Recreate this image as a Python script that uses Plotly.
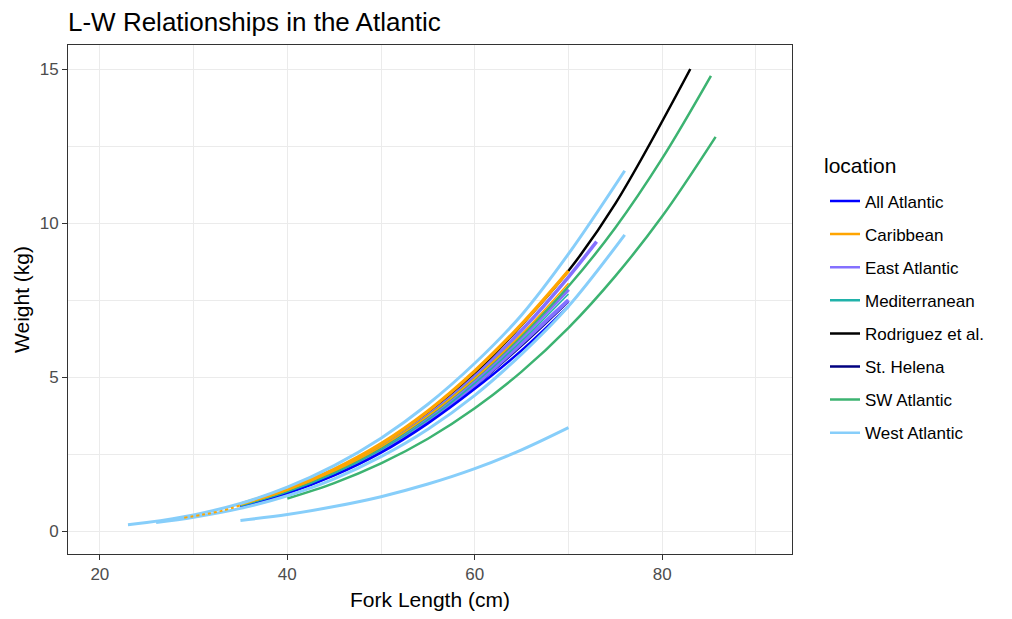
import plotly.graph_objects as go

# ---------------- data ----------------
locations = ["All Atlantic", "Caribbean", "East Atlantic", "Mediterranean",
             "Rodriguez et al.", "St. Helena", "SW Atlantic", "West Atlantic"]
colors = ["#0000FF", "#FFA500", "#8470FF", "#20B2AA",
          "#000000", "#000080", "#3CB371", "#87CEFA"]

len_35_70 = [35, 40, 45, 50, 55, 60, 65, 70]

all_atl_wt = [0.80, 1.23, 1.81, 2.55, 3.50, 4.62, 5.87, 7.30]

carib1_wt = [0.88, 1.37, 2.01, 2.84, 3.90, 5.20, 6.72, 8.45]
carib2_wt = [0.86, 1.33, 1.95, 2.74, 3.74, 4.96, 6.40, 8.05]
carib_tail_len = [29, 31, 33, 35]
carib_tail_wt = [0.44, 0.54, 0.66, 0.84]

east1_len = [35, 40, 45, 50, 55, 60, 65, 70, 73]
east1_wt = [0.84, 1.31, 1.93, 2.74, 3.76, 5.02, 6.52, 8.25, 9.40]
east2_wt = [0.82, 1.26, 1.85, 2.61, 3.57, 4.74, 6.10, 7.50]
east3_wt = [0.83, 1.29, 1.90, 2.68, 3.67, 4.88, 6.30, 7.85]

med_wt = [0.82, 1.27, 1.87, 2.64, 3.61, 4.80, 6.18, 7.70]

rodr_len = [36, 40, 45, 50, 55, 60, 65, 70, 75, 83]
rodr_wt = [0.90, 1.30, 1.93, 2.76, 3.81, 5.12, 6.69, 8.45, 10.63, 15.0]

sthel_wt = [0.81, 1.25, 1.84, 2.59, 3.55, 4.70, 6.02, 7.45]

sw1_len = [40, 45, 50, 55, 60, 65, 70, 75, 80, 85.7]
sw1_wt = [1.06, 1.56, 2.20, 3.00, 3.99, 5.18, 6.60, 8.28, 10.22, 12.8]
sw2_len = [35, 40, 45, 50, 55, 60, 65, 70, 75, 80, 85.2]
sw2_wt = [0.86, 1.32, 1.93, 2.72, 3.73, 4.95, 6.35, 7.95, 9.85, 12.1, 14.78]

wa1_len = [23, 25, 30, 35, 40, 45, 50, 55, 60, 65, 70, 76]
wa1_wt = [0.21, 0.28, 0.53, 0.90, 1.43, 2.13, 3.02, 4.12, 5.45, 7.02, 9.00, 11.7]
wa2_len = [26, 30, 35, 40, 45, 50, 55, 60, 65, 70, 76]
wa2_wt = [0.28, 0.45, 0.74, 1.15, 1.70, 2.42, 3.31, 4.41, 5.75, 7.30, 9.62]
wa3_wt = [0.35, 0.54, 0.80, 1.12, 1.53, 2.03, 2.64, 3.36]

x_ticks = [20, 40, 60, 80]
y_ticks = [0, 5, 10, 15]

# ---------------- figure ----------------
col = dict(zip(locations, colors))
fig = go.Figure()

# legend entries (alphabetical, like the reference)
for loc in locations:
    fig.add_trace(go.Scatter(x=[None], y=[None], mode="lines", name=loc,
                             legendgroup=loc, showlegend=True,
                             line=dict(color=col[loc], width=2.5)))

# curves, in drawing order (bottom -> top)
curves = [
    ("Rodriguez et al.", rodr_len, rodr_wt, 2.5, "solid"),
    ("St. Helena", len_35_70, sthel_wt, 2, "solid"),
    ("East Atlantic", east1_len, east1_wt, 3.5, "solid"),
    ("East Atlantic", len_35_70, east3_wt, 4, "solid"),
    ("East Atlantic", len_35_70, east2_wt, 4, "solid"),
    ("All Atlantic", len_35_70, all_atl_wt, 2.5, "solid"),
    ("Mediterranean", len_35_70, med_wt, 1.5, "solid"),
    ("SW Atlantic", sw1_len, sw1_wt, 2.5, "solid"),
    ("SW Atlantic", sw2_len, sw2_wt, 2.5, "solid"),
    ("Caribbean", len_35_70, carib2_wt, 1.5, "solid"),
    ("Caribbean", len_35_70, carib1_wt, 3.5, "solid"),
    ("West Atlantic", wa1_len, wa1_wt, 3, "solid"),
    ("West Atlantic", wa2_len, wa2_wt, 3, "solid"),
    ("West Atlantic", len_35_70, wa3_wt, 3, "solid"),
    ("Caribbean", carib_tail_len, carib_tail_wt, 2, "dot"),
]
for loc, xs, ys, w, dash in curves:
    fig.add_trace(go.Scatter(x=xs, y=ys, mode="lines", legendgroup=loc,
                             showlegend=False, hoverinfo="skip",
                             line=dict(color=col[loc], width=w, dash=dash,
                                       shape="spline", smoothing=1.0)))

FONT = "Liberation Sans, Arial, sans-serif"
grid = "#EBEBEB"
axis_common = dict(showline=True, mirror=True, linecolor="#333333", linewidth=1,
                   ticks="outside", ticklen=5, tickcolor="#333333", tickwidth=1,
                   showgrid=True, gridcolor=grid, gridwidth=1, zeroline=False,
                   tickfont=dict(family=FONT, size=17, color="#4D4D4D"))

fig.update_layout(
    width=1012, height=619,
    margin=dict(l=68, r=220, t=45, b=63),
    paper_bgcolor="white", plot_bgcolor="white",
    font=dict(family=FONT, color="black"),
    title=dict(text="L-W Relationships in the Atlantic", x=0, xref="paper",
               xanchor="left", y=1 - 22 / 619, yref="container", yanchor="middle",
               font=dict(family=FONT, size=26, color="black")),
    xaxis=dict(range=[16.6, 93.85], tickmode="array", tickvals=x_ticks,
               ticktext=[str(v) for v in x_ticks],
               minor=dict(dtick=10, tick0=0, showgrid=True, gridcolor=grid,
                          gridwidth=1, ticks=""),
               title=dict(text="Fork Length (cm)", standoff=8,
                          font=dict(family=FONT, size=21, color="black")),
               **axis_common),
    yaxis=dict(range=[-0.74, 15.78], tickmode="array", tickvals=y_ticks,
               ticktext=[str(v) for v in y_ticks],
               minor=dict(dtick=2.5, tick0=0, showgrid=True, gridcolor=grid,
                          gridwidth=1, ticks=""),
               title=dict(text="Weight (kg)", standoff=4,
                          font=dict(family=FONT, size=21, color="black")),
               **axis_common),
    legend=dict(x=(825 - 68) / 724, xanchor="left", y=(556 - 184) / 511,
                yanchor="top", traceorder="grouped", tracegroupgap=8,
                font=dict(family=FONT, size=17, color="black"),
                bgcolor="rgba(0,0,0,0)"),
    annotations=[dict(text="location", xref="paper", yref="paper",
                      x=(822 - 68) / 724, xanchor="left",
                      y=(556 - 166) / 511, yanchor="middle", showarrow=False,
                      font=dict(family=FONT, size=21, color="black"))],
    showlegend=True,
)

fig.write_html("out.html")
